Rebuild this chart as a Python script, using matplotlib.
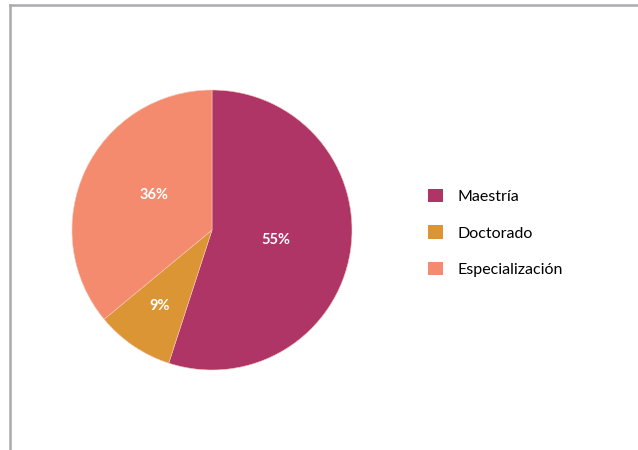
import numpy as np
import matplotlib
matplotlib.use('Agg')
from matplotlib import pyplot as plt
from matplotlib.lines import Line2D
from matplotlib.patches import Patch

labels = ['Maestría', 'Doctorado', 'Especialización']
shares = [55, 9, 36]
colors = ['#AE3566', '#DB9535', '#F48B6F']
label_dist = [0.46, 0.66, 0.48]
label_rot = [0, 0, -6]  # small angular nudge, degrees

plt.rcParams['font.family'] = ['Lato', 'DejaVu Sans']

fig = plt.figure(figsize=(6.38, 4.5), dpi=100)

# frame lines (top and left only)
fig.add_artist(Line2D([9.5/638, 1.0], [1-5/450, 1-5/450], color='#ABABAF', lw=1.8))
fig.add_artist(Line2D([9.5/638, 9.5/638], [1-5/450, 0.0], color='#ABABAF', lw=1.8))

# pie: centre (212, 230) px, radius 140 px
ax = fig.add_axes([(212-140)/638, 1-(230+140)/450, 280/638, 280/450])
wedges, _ = ax.pie(shares, colors=colors, startangle=90, counterclock=False,
                   wedgeprops=dict(linewidth=0.4, edgecolor='#F6C8B8'))
ax.set_aspect('equal')
ax.set_xlim(-1, 1)
ax.set_ylim(-1, 1)

for w, v, d, r in zip(wedges, shares, label_dist, label_rot):
    ang = np.deg2rad((w.theta1 + w.theta2) / 2 + r)
    ax.text(d*np.cos(ang), d*np.sin(ang), '{}%'.format(v), ha='center', va='center',
            color='white', fontsize=10.5, fontweight='bold')

handles = [Patch(facecolor=c, edgecolor='none') for c in colors]
fig.legend(handles, labels, loc='center left', bbox_to_anchor=(414/638, 1-233/450),
           frameon=False, fontsize=11.5, handlelength=0.9, handleheight=0.9,
           handletextpad=0.9, labelspacing=1.33)

plt.savefig('out.png', dpi=100)
